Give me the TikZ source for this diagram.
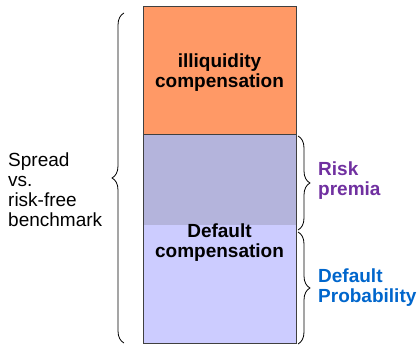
\documentclass[tikz,border=0pt]{standalone}
\usepackage{fontspec}
\setmainfont{Liberation Sans}
\usetikzlibrary{decorations.pathreplacing}
\definecolor{illiq}{RGB}{255,153,102}
\definecolor{riskfill}{RGB}{180,180,220}
\definecolor{probfill}{RGB}{204,204,255}
\definecolor{edge}{RGB}{64,64,64}
\definecolor{premiatext}{RGB}{112,48,160}
\definecolor{probtext}{RGB}{0,102,204}
\tikzset{
  bar/.style={draw=edge, line width=1pt},
  label/.style={font=\fontsize{19}{20}\selectfont, align=left, inner sep=0pt},
  inlabel/.style={font=\bfseries\fontsize{19}{20}\selectfont, align=center, inner sep=0pt},
  sidelabel/.style={font=\bfseries\fontsize{19}{20}\selectfont, align=left, inner sep=0pt, anchor=base west},
  bracket/.style={draw=black, line width=0.8pt, decorate,
    decoration={brace, amplitude=12pt, raise=0pt}},
}
\begin{document}
\begin{tikzpicture}[x=1pt, y=-1pt]
  \useasboundingbox (0,0) rectangle (420,347);
  % stacked bar: illiquidity part on top, default part below
  \fill[illiq] (143,7) rectangle (296,135);
  \fill[riskfill] (143,135) rectangle (296,225);
  \fill[probfill] (143,225) rectangle (296,343);
  \draw[bar] (143,7) rectangle (296,343);
  \draw[bar] (143,135) -- (296,135);

  % multi-line nodes: base anchor sits on the last line
  \node[inlabel, anchor=base] (illiqtext) at (219.5,88) {illiquidity\\compensation};
  \node[inlabel, anchor=base] (deftext) at (219.5,258) {Default\\compensation};

  % total spread brace on the left
  \coordinate (spreadtop) at (124,13);
  \coordinate (spreadbot) at (124,343);
  \draw[bracket] (spreadbot) -- (spreadtop);
  \node[label, anchor=base west] (spread) at (8,227) {Spread\\vs.\\risk-free\\benchmark};

  % braces splitting the default part
  \coordinate (premtop) at (298,136);
  \coordinate (prembot) at (298,230);
  \coordinate (probtop) at (298,232);
  \coordinate (probbot) at (298,344);
  \draw[bracket] (premtop) -- (prembot);
  \draw[bracket] (probtop) -- (probbot);
  \node[sidelabel, text=premiatext] (premia) at (318,196) {Risk\\premia};
  \node[sidelabel, text=probtext] (prob) at (318,302) {Default\\Probability};
\end{tikzpicture}
\end{document}
